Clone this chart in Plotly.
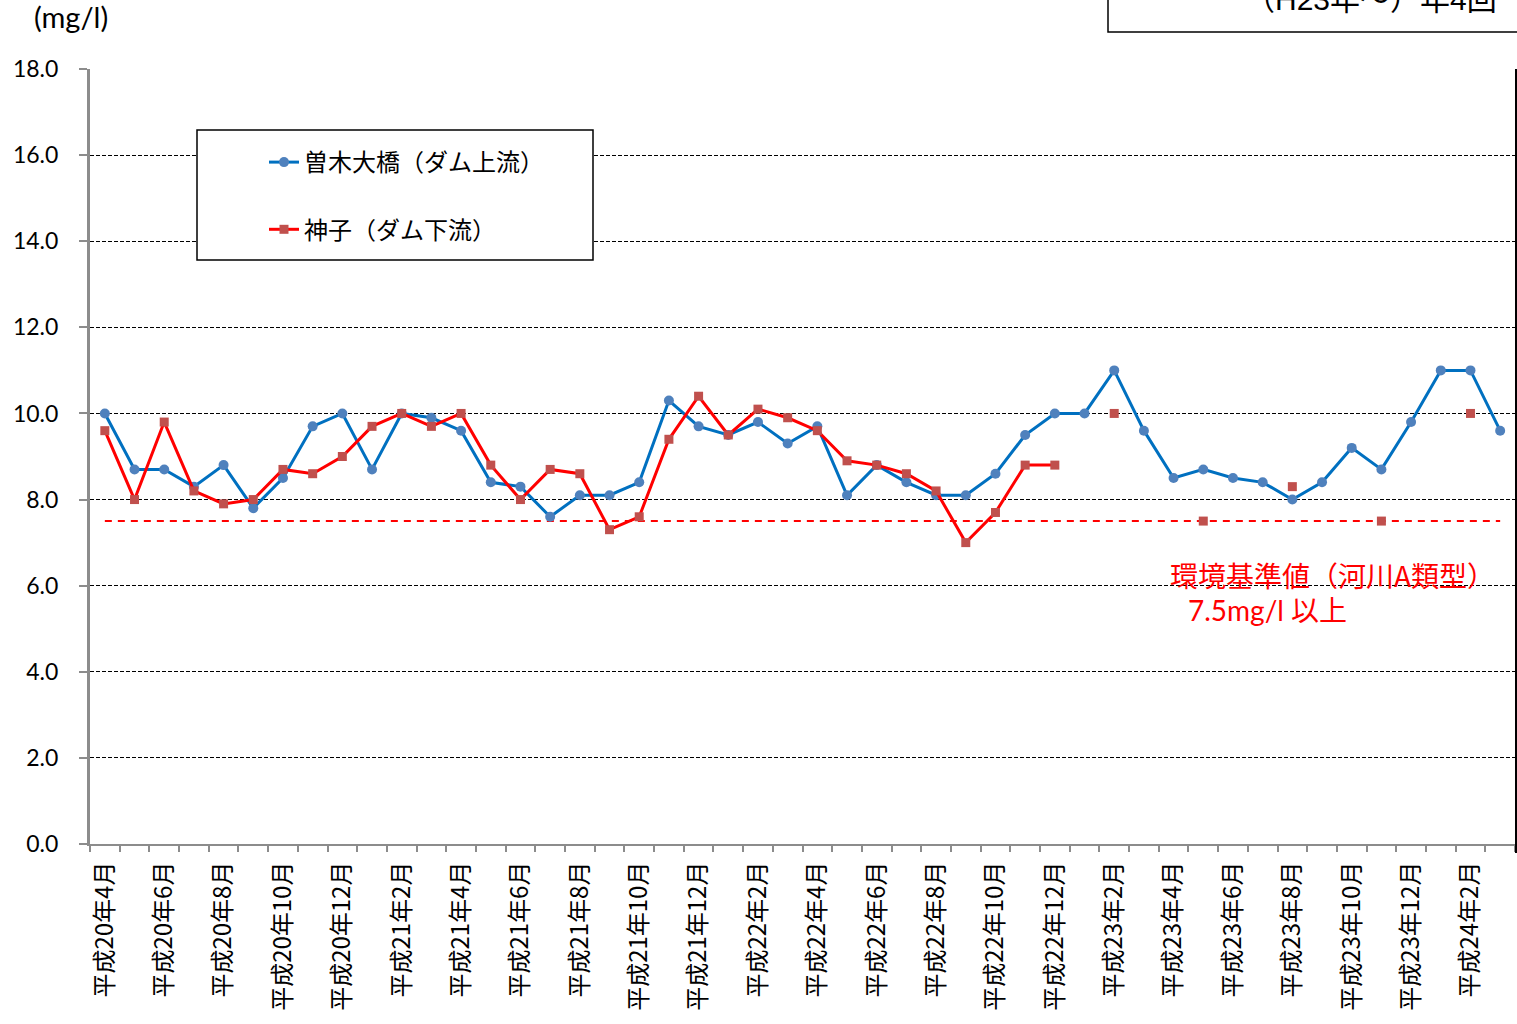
import plotly.graph_objects as go

# ---------------- data ----------------
months = [
    "平成20年4月", "平成20年5月", "平成20年6月", "平成20年7月", "平成20年8月", "平成20年9月",
    "平成20年10月", "平成20年11月", "平成20年12月", "平成21年1月", "平成21年2月", "平成21年3月",
    "平成21年4月", "平成21年5月", "平成21年6月", "平成21年7月", "平成21年8月", "平成21年9月",
    "平成21年10月", "平成21年11月", "平成21年12月", "平成22年1月", "平成22年2月", "平成22年3月",
    "平成22年4月", "平成22年5月", "平成22年6月", "平成22年7月", "平成22年8月", "平成22年9月",
    "平成22年10月", "平成22年11月", "平成22年12月", "平成23年1月", "平成23年2月", "平成23年3月",
    "平成23年4月", "平成23年5月", "平成23年6月", "平成23年7月", "平成23年8月", "平成23年9月",
    "平成23年10月", "平成23年11月", "平成23年12月", "平成24年1月", "平成24年2月", "平成24年3月",
]

soki_ohashi = [  # 曽木大橋（ダム上流）
    10.0, 8.7, 8.7, 8.3, 8.8, 7.8, 8.5, 9.7, 10.0, 8.7, 10.0, 9.9,
    9.6, 8.4, 8.3, 7.6, 8.1, 8.1, 8.4, 10.3, 9.7, 9.5, 9.8, 9.3,
    9.7, 8.1, 8.8, 8.4, 8.1, 8.1, 8.6, 9.5, 10.0, 10.0, 11.0, 9.6,
    8.5, 8.7, 8.5, 8.4, 8.0, 8.4, 9.2, 8.7, 9.8, 11.0, 11.0, 9.6,
]

miko = [  # 神子（ダム下流）
    9.6, 8.0, 9.8, 8.2, 7.9, 8.0, 8.7, 8.6, 9.0, 9.7, 10.0, 9.7,
    10.0, 8.8, 8.0, 8.7, 8.6, 7.3, 7.6, 9.4, 10.4, 9.5, 10.1, 9.9,
    9.6, 8.9, 8.8, 8.6, 8.2, 7.0, 7.7, 8.8, 8.8, None, 10.0, None,
    None, 7.5, None, None, 8.3, None, None, 7.5, None, None, 10.0, None,
]

standard_value = [7.5] * len(months)  # 環境基準値（河川A類型）7.5mg/l 以上

tick_labels = [m if i % 2 == 0 else "" for i, m in enumerate(months)]
y_ticks = [0, 2, 4, 6, 8, 10, 12, 14, 16, 18]

# ---------------- figure ----------------
JP = "Noto Sans CJK JP"
LAT = "Lato, Noto Sans CJK JP"

W, H = 1517, 1024
L, R, T, B = 90, 2, 69, 180
PW = W - L - R
PH = H - T - B


def px(xp):
    return (xp - L) / PW


def py(yp):
    return (H - B - yp) / PH


fig = go.Figure()

fig.add_trace(go.Scatter(
    x=months, y=standard_value, mode="lines",
    line=dict(color="#FF0000", width=2, dash="7px,6px"),
    showlegend=False, hoverinfo="skip", name="環境基準値",
))

fig.add_trace(go.Scatter(
    x=months, y=soki_ohashi, mode="lines+markers", name="曽木大橋（ダム上流）",
    line=dict(color="#0070C0", width=3),
    marker=dict(symbol="circle", size=10, color="#4F81BD"),
    legendgroup="a",
))

fig.add_trace(go.Scatter(
    x=months, y=miko, mode="lines+markers", name="神子（ダム下流）",
    line=dict(color="#FF0000", width=3),
    marker=dict(symbol="square", size=9, color="#C0504D"),
    connectgaps=False, legendgroup="b",
))

fig.update_layout(
    width=W, height=H,
    margin=dict(l=L, r=R, t=T, b=B, pad=0),
    paper_bgcolor="white", plot_bgcolor="white",
    font=dict(family=JP, color="black"),
    showlegend=True,
    legend=dict(
        x=px(264), y=py(140), xanchor="left", yanchor="top",
        bgcolor="rgba(0,0,0,0)", borderwidth=0,
        font=dict(family=JP, size=24, color="black"),
        tracegroupgap=33, traceorder="grouped",
    ),
    xaxis=dict(
        type="category", range=[-0.5, len(months) - 0.5],
        tickmode="array", tickvals=months, ticktext=tick_labels,
        tickangle=-90, tickfont=dict(family=JP, size=24, color="black"),
        showline=True, linecolor="#8C8C8C", linewidth=2,
        ticks="outside", ticklen=6, tickwidth=1.5, tickcolor="#8C8C8C",
        tickson="boundaries", showgrid=False, zeroline=False,
        ticklabelstandoff=6,
    ),
    yaxis=dict(
        range=[0, 18], tickmode="array", tickvals=y_ticks,
        ticktext=[f"{v:.1f}" for v in y_ticks],
        tickfont=dict(family=LAT, size=23, color="black"),
        showline=True, linecolor="#8C8C8C", linewidth=3,
        ticks="outside", ticklen=8, tickwidth=1.5, tickcolor="#8C8C8C",
        showgrid=True, gridcolor="black", gridwidth=1, griddash="4px,2px",
        zeroline=False, ticklabelstandoff=16,
    ),
)

# legend frame
fig.add_shape(type="rect", xref="paper", yref="paper",
              x0=px(197), x1=px(593), y0=py(260), y1=py(130),
              line=dict(color="black", width=1.5), fillcolor="white", layer="above")

# right border of the chart
fig.add_shape(type="line", xref="paper", yref="paper",
              x0=px(1516), x1=px(1516), y0=py(853), y1=py(69),
              line=dict(color="black", width=2))

# top-right box (cut off by the page edge)
fig.add_shape(type="rect", xref="paper", yref="paper",
              x0=px(1108), x1=px(1530), y0=py(32), y1=py(-20),
              line=dict(color="black", width=1.5), fillcolor="white")

fig.add_annotation(xref="paper", yref="paper", x=px(1499), y=py(18),
                   xanchor="right", yanchor="bottom", showarrow=False,
                   text="（H23年〜）年4回",
                   font=dict(family="Liberation Sans, Noto Sans CJK JP", size=30, color="black"))

# unit label
fig.add_annotation(xref="paper", yref="paper", x=px(32), y=py(17),
                   xanchor="left", yanchor="middle", showarrow=False,
                   text="(mg/l)", font=dict(family=LAT, size=29, color="black"))

# standard value note
fig.add_annotation(xref="paper", yref="paper", x=px(1168), y=py(575),
                   xanchor="left", yanchor="middle", showarrow=False,
                   text="環境基準値（河川A類型）",
                   font=dict(family=JP, size=28, color="#FF0000"))
fig.add_annotation(xref="paper", yref="paper", x=px(1186), y=py(610),
                   xanchor="left", yanchor="middle", showarrow=False,
                   text="7.5mg/l 以上",
                   font=dict(family=LAT, size=28, color="#FF0000"))

fig.write_html("out.html", config={"displayModeBar": False},
               post_script="document.body.style.margin='0';")
